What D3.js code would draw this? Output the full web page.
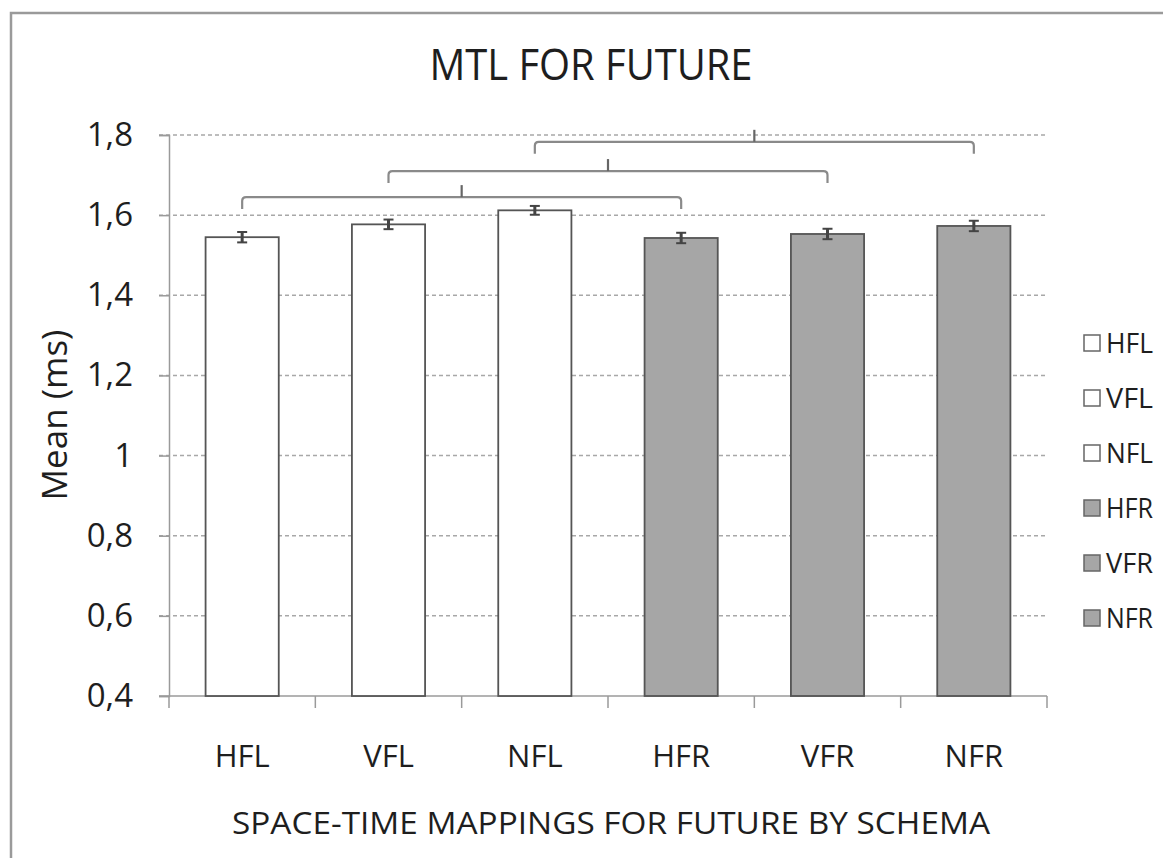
<!DOCTYPE html>
<html>
<head>
<meta charset="utf-8">
<script src="https://cdnjs.cloudflare.com/ajax/libs/d3/7.8.5/d3.min.js"></script>
<style>
  body { margin: 0; background: #fff; }
  svg text { font-family: "Open Sans", Lato, sans-serif; fill: #1e1e1e; }
</style>
</head>
<body>
<script>
const W = 1163
const H = 858

const categories = ['HFL', 'VFL', 'NFL', 'HFR', 'VFR', 'NFR']
const means = [1.545, 1.577, 1.612, 1.543, 1.553, 1.573]
const errors = [0.013, 0.012, 0.011, 0.013, 0.013, 0.013]
const schema = ['L', 'L', 'L', 'R', 'R', 'R']
const yTicks = [0.4, 0.6, 0.8, 1, 1.2, 1.4, 1.6, 1.8]
// comparison brackets: [from, to, height]
const brackets = [
  ['HFL', 'HFR', 1.645],
  ['VFL', 'VFR', 1.71],
  ['NFL', 'NFR', 1.783]
]

const margin = { left: 169, right: 115, top: 135, bottom: 162 }

const fills = { L: '#ffffff', R: '#a6a6a6' }

const svg = d3.select('body').append('svg')
  .attr('width', W)
  .attr('height', H)

// outer chart frame
svg.append('rect')
  .attr('x', 11).attr('y', 13)
  .attr('width', W + 20).attr('height', H + 20)
  .attr('fill', '#fff')
  .attr('stroke', '#9a9a9a')
  .attr('stroke-width', 2.5)

const xScale = d3.scaleBand()
  .domain(categories)
  .range([margin.left, W - margin.right - 1])
  .paddingInner(0.5)
  .paddingOuter(0.25)

const yScale = d3.scaleLinear()
  .domain([0.4, 1.8])
  .range([H - margin.bottom, margin.top])

const fmt = d => d3.format('~g')(d).replace('.', ',')

// gridlines
svg.append('g').selectAll('line')
  .data(yTicks.filter(d => d > 0.4))
  .enter().append('line')
  .attr('x1', margin.left - 10)
  .attr('x2', W - margin.right - 1)
  .attr('y1', d => yScale(d))
  .attr('y2', d => yScale(d))
  .attr('stroke', '#a8a8a8')
  .attr('stroke-width', 1.5)
  .attr('stroke-dasharray', '4,3')

// y axis
const yAxis = svg.append('g')
  .attr('transform', `translate(${margin.left},0)`)
  .call(d3.axisLeft(yScale).tickValues(yTicks).tickFormat(fmt).tickSize(10).tickPadding(26))
yAxis.select('.domain').attr('stroke', '#9a9a9a').attr('stroke-width', 1.5)
yAxis.selectAll('.tick line').attr('stroke', '#9a9a9a').attr('stroke-width', 1.5)
yAxis.selectAll('text').attr('font-size', 33).attr('fill', '#1e1e1e')
  .attr('font-family', '"Open Sans", sans-serif')

// x axis
const step = xScale.step()
const xAxisY = yScale(0.4)
const boundaries = d3.range(categories.length + 1).map(i => margin.left + i * step)
svg.append('line')
  .attr('x1', margin.left - 10).attr('x2', W - margin.right - 1)
  .attr('y1', xAxisY).attr('y2', xAxisY)
  .attr('stroke', '#9a9a9a').attr('stroke-width', 1.5)
svg.append('g').selectAll('line')
  .data(boundaries)
  .enter().append('line')
  .attr('x1', d => d).attr('x2', d => d)
  .attr('y1', xAxisY).attr('y2', xAxisY + 12)
  .attr('stroke', '#9a9a9a').attr('stroke-width', 1.5)
svg.append('g').selectAll('text')
  .data(categories)
  .enter().append('text')
  .attr('x', d => xScale(d) + xScale.bandwidth() / 2)
  .attr('y', 767)
  .attr('text-anchor', 'middle')
  .attr('font-size', 31)
  .text(d => d)

// bars
svg.append('g').selectAll('rect')
  .data(categories)
  .enter().append('rect')
  .attr('x', d => xScale(d))
  .attr('y', (d, i) => yScale(means[i]))
  .attr('width', xScale.bandwidth())
  .attr('height', (d, i) => yScale(0.4) - yScale(means[i]))
  .attr('fill', (d, i) => fills[schema[i]])
  .attr('stroke', '#555')
  .attr('stroke-width', 1.8)

// error bars
const eb = svg.append('g').attr('stroke', '#444').attr('stroke-width', 2)
categories.forEach(function (c, i) {
  const cx = xScale(c) + xScale.bandwidth() / 2
  const y1 = yScale(means[i] + errors[i])
  const y2 = yScale(means[i] - errors[i])
  eb.append('line').attr('x1', cx).attr('x2', cx).attr('y1', y1).attr('y2', y2).attr('stroke-width', 3)
  eb.append('line').attr('x1', cx - 5).attr('x2', cx + 5).attr('y1', y1).attr('y2', y1)
  eb.append('line').attr('x1', cx - 5).attr('x2', cx + 5).attr('y1', y2).attr('y2', y2)
})

// comparison brackets
const br = svg.append('g')
  .attr('fill', 'none')
  .attr('stroke', '#8a8a8a')
  .attr('stroke-width', 2.2)
brackets.forEach(function (b) {
  const x1 = xScale(b[0]) + xScale.bandwidth() / 2
  const x2 = xScale(b[1]) + xScale.bandwidth() / 2
  const y = yScale(b[2])
  const drop = 12
  const r = 4
  br.append('path')
    .attr('d', `M${x1},${y + drop} L${x1},${y + r} Q${x1},${y} ${x1 + r},${y} L${x2 - r},${y} Q${x2},${y} ${x2},${y + r} L${x2},${y + drop}`)
  const mx = (x1 + x2) / 2
  br.append('line')
    .attr('x1', mx).attr('x2', mx)
    .attr('y1', y).attr('y2', y - 12)
    .attr('stroke', '#666')
})

// title
svg.append('text')
  .attr('x', 591).attr('y', 80)
  .attr('text-anchor', 'middle')
  .attr('font-size', 43)
  .attr('textLength', 323)
  .attr('lengthAdjust', 'spacingAndGlyphs')
  .text('MTL FOR FUTURE')

// axis titles
svg.append('text')
  .attr('x', 611).attr('y', 834)
  .attr('text-anchor', 'middle')
  .attr('font-size', 31)
  .attr('textLength', 758)
  .attr('lengthAdjust', 'spacingAndGlyphs')
  .text('SPACE-TIME MAPPINGS FOR FUTURE BY SCHEMA')

svg.append('text')
  .attr('transform', `translate(67,${415}) rotate(-90)`)
  .attr('text-anchor', 'middle')
  .attr('font-size', 35)
  .text('Mean (ms)')

// legend
const legend = svg.append('g')
categories.forEach(function (c, i) {
  const y = 343 + i * 55
  legend.append('rect')
    .attr('x', 1084).attr('y', y - 8)
    .attr('width', 16).attr('height', 16)
    .attr('fill', fills[schema[i]])
    .attr('stroke', '#666')
    .attr('stroke-width', 1.5)
  legend.append('text')
    .attr('x', 1106).attr('y', y + 10)
    .attr('font-size', 27)
    .attr('textLength', 47)
    .attr('lengthAdjust', 'spacingAndGlyphs')
    .text(c)
})
</script>
</body>
</html>
